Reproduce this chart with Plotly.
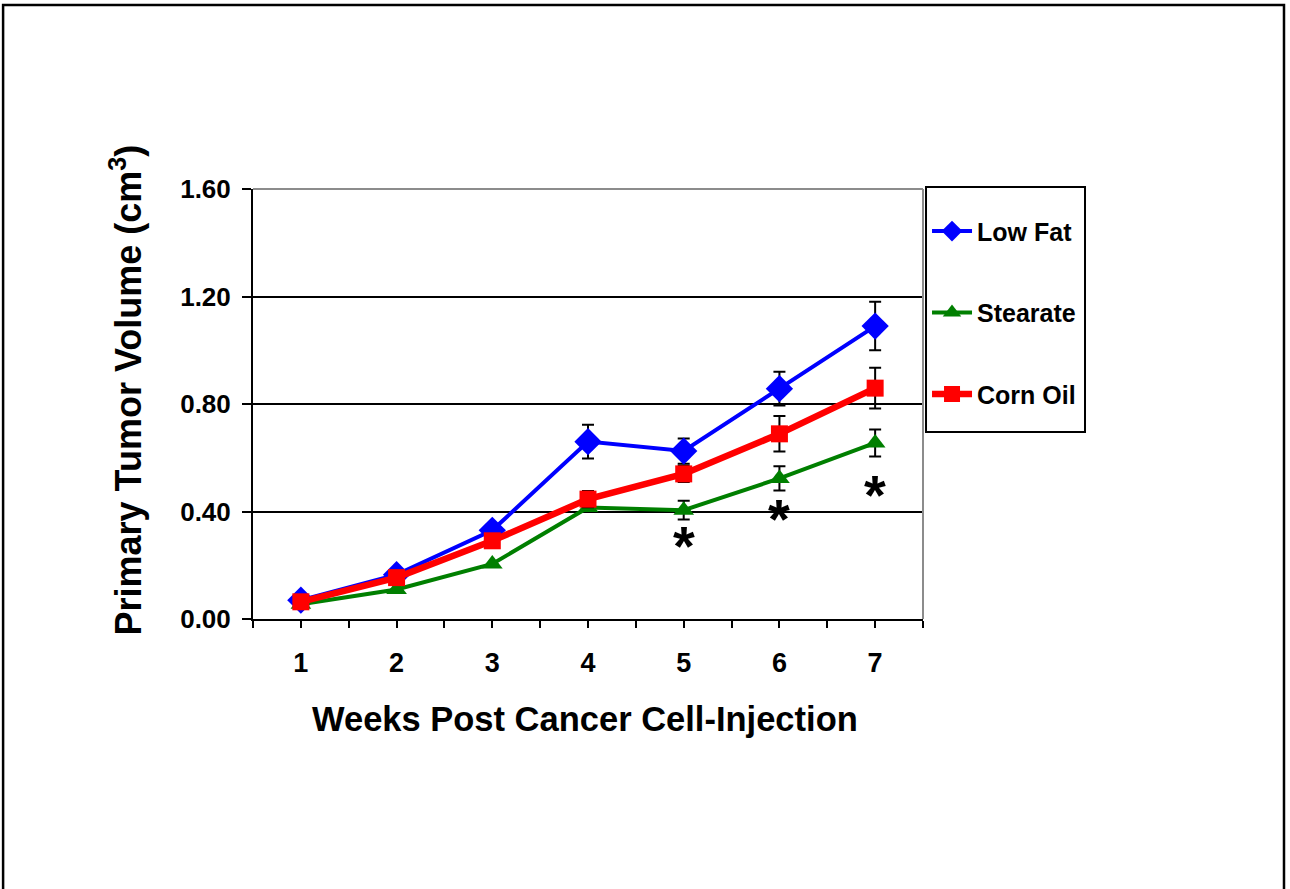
import plotly.graph_objects as go

weeks = [1, 2, 3, 4, 5, 6, 7]

low_fat = [0.07, 0.165, 0.33, 0.66, 0.625, 0.857, 1.09]
low_fat_err = [0.0, 0.0, 0.0, 0.063, 0.047, 0.063, 0.09]

stearate = [0.055, 0.11, 0.205, 0.415, 0.405, 0.523, 0.655]
stearate_err = [0.0, 0.0, 0.0, 0.0, 0.035, 0.045, 0.05]

corn_oil = [0.064, 0.154, 0.291, 0.446, 0.54, 0.689, 0.859]
corn_oil_err = [0.0, 0.0, 0.0, 0.03, 0.03, 0.066, 0.076]

star_weeks = [5, 6, 7]
star_y = [0.30, 0.40, 0.49]

y_ticks = [0.0, 0.4, 0.8, 1.2, 1.6]
y_tick_text = ["0.00", "0.40", "0.80", "1.20", "1.60"]
x_tick_text = [str(w) for w in weeks]

FONT = "Liberation Sans, Arial, sans-serif"

fig = go.Figure()

def add_series(name, y, err, color, symbol, msize, lw, group):
    fig.add_trace(go.Scatter(
        x=weeks, y=y, name=name, mode="lines+markers",
        line=dict(color=color, width=lw),
        marker=dict(color=color, symbol=symbol, size=msize, line=dict(width=0)),
        error_y=dict(type="data", array=err, visible=True, color="black",
                     thickness=2, width=6),
        legendgroup=group,
    ))

add_series("Low Fat", low_fat, low_fat_err, "#0000FF", "diamond", 21, 4, "a")
add_series("Stearate", stearate, stearate_err, "#007F00", "triangle-up", 18, 4, "b")
add_series("Corn Oil", corn_oil, corn_oil_err, "#FF0000", "square", 17, 6.5, "c")

for sx, sy in zip(star_weeks, star_y):
    fig.add_annotation(x=sx, y=sy, xref="x", yref="y", text="*", showarrow=False,
                       font=dict(family=FONT, size=56, color="black", weight="bold"),
                       yanchor="middle", yshift=-7)

# axis titles
fig.add_annotation(x=0.4955, y=-0.232, xref="paper", yref="paper",
                   text="Weeks Post Cancer Cell-Injection", showarrow=False,
                   font=dict(family=FONT, size=34.5, color="black", weight="bold"),
                   xanchor="center", yanchor="middle")
fig.add_annotation(x=-0.19, y=0.533, xref="paper", yref="paper",
                   text="Primary Tumor Volume (cm<sup>3</sup>)", showarrow=False,
                   textangle=-90,
                   font=dict(family=FONT, size=36, color="black", weight="bold"),
                   xanchor="center", yanchor="middle")

shapes = [
    # outer frame
    dict(type="rect", xref="paper", yref="paper", x0=-0.373, x1=1.5388, y0=-0.64, y1=1.428,
         line=dict(color="black", width=2.5), layer="below"),
    # plot area top and right borders
    dict(type="line", xref="paper", yref="paper", x0=0, x1=1, y0=1, y1=1,
         line=dict(color="#8c8c8c", width=2), layer="above"),
    dict(type="line", xref="paper", yref="paper", x0=1, x1=1, y0=0, y1=1,
         line=dict(color="#8c8c8c", width=2), layer="above"),
    # legend box
    dict(type="rect", xref="paper", yref="paper", x0=1.0045, x1=1.2418, y0=0.4349, y1=1.0047,
         line=dict(color="black", width=2), fillcolor="rgba(0,0,0,0)", layer="above"),
]

fig.update_layout(
    width=1290, height=889,
    margin=dict(l=253, r=367, t=189, b=270),
    paper_bgcolor="white", plot_bgcolor="white",
    showlegend=True,
    legend=dict(
        x=1.006, y=0.955, xanchor="left", yanchor="top",
        font=dict(family=FONT, size=25, color="black", weight="bold"),
        bgcolor="rgba(0,0,0,0)", borderwidth=0,
        tracegroupgap=46, itemwidth=40, traceorder="grouped",
    ),
    shapes=shapes,
    xaxis=dict(
        range=[0.5, 7.5], tickmode="array", tickvals=weeks, ticktext=x_tick_text,
        ticks="outside", ticklen=7, tickwidth=1.5, tickcolor="black",
        minor=dict(ticks="outside", ticklen=7, tickwidth=1.5, tickcolor="black",
                   tick0=0.5, dtick=1, showgrid=False),
        showline=True, linecolor="black", linewidth=2, showgrid=False, zeroline=False,
        tickfont=dict(family=FONT, size=27, color="black", weight="bold"),
        ticklabelstandoff=12,
    ),
    yaxis=dict(
        range=[0, 1.6], tickmode="array", tickvals=y_ticks, ticktext=y_tick_text,
        ticks="outside", ticklen=9, tickwidth=1.5, tickcolor="black",
        showline=True, linecolor="black", linewidth=2,
        showgrid=True, gridcolor="black", gridwidth=2, zeroline=False,
        tickfont=dict(family=FONT, size=26, color="black", weight="bold"),
        ticklabelstandoff=6,
    ),
)

fig.write_html("out.html", config={"displayModeBar": False},
               post_script="document.body.style.margin='0px';")
